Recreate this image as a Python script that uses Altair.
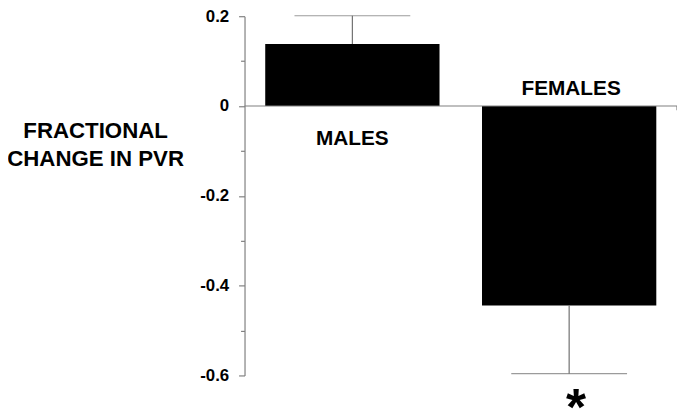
import altair as alt
import pandas as pd

categories = ["MALES", "FEMALES"]
means = [0.138, -0.444]
error_ends = [0.201, -0.596]
y_ticks = [-0.6, -0.5, -0.4, -0.3, -0.2, -0.1, 0.0, 0.1, 0.2]
y_title = ["FRACTIONAL", "CHANGE IN PVR"]
marker = "*"

df = pd.DataFrame({"group": categories, "mean": means, "err_end": error_ends})
zero_df = pd.DataFrame({"v": [0.0]})

W, H = 437, 363
FONT = "Liberation Sans"
GRAY = "#808080"

x = alt.X("group:N", sort=categories, axis=None,
          scale=alt.Scale(paddingInner=0.196, paddingOuter=0.0955))
yscale = alt.Scale(domain=[-0.6, 0.2], nice=False, zero=False)

base = alt.Chart(df)

bars = base.mark_bar(color="black").encode(
    x=x,
    y=alt.Y("mean:Q", scale=yscale,
            axis=alt.Axis(values=y_ticks,
                          labelExpr="round(datum.value*10) % 2 == 0 ? toString(datum.value) : ''",
                          tickSize={"condition": {"test": "round(datum.value*10) % 2 == 0", "value": 6}, "value": 4},
                          title=y_title)),
    y2=alt.datum(0),
)

stems = base.mark_rule(color="#707070", strokeWidth=1.2).encode(
    x=x, y="mean:Q", y2="err_end:Q"
)

caps = base.mark_tick(color="#707070", thickness=1.2, size=117, orient="horizontal").encode(
    x=x, y="err_end:Q"
)

zero_line = alt.Chart(zero_df).mark_rule(color=GRAY, strokeWidth=1.2).encode(
    y=alt.Y("v:Q"), x=alt.value(0), x2=alt.value(W)
)
end_tick = alt.Chart(zero_df).mark_rule(color=GRAY, strokeWidth=1.2).encode(
    y=alt.Y("v:Q"), y2=alt.value(95), x=alt.value(W)
)

males_lbl = base.transform_filter(alt.datum.group == "MALES").mark_text(
    font=FONT, fontSize=21, fontWeight="bold", baseline="alphabetic", dy=39, color="black"
).encode(x=x, y=alt.datum(0), text="group:N")

females_lbl = base.transform_filter(alt.datum.group == "FEMALES").mark_text(
    font=FONT, fontSize=21, fontWeight="bold", baseline="alphabetic", dy=-11, dx=2, color="black"
).encode(x=x, y=alt.datum(0), text="group:N")

star = base.transform_filter(alt.datum.group == "FEMALES").mark_text(
    text=marker, font=FONT, fontSize=52, fontWeight="bold", baseline="alphabetic", dy=52, dx=7, color="black"
).encode(x=x, y="err_end:Q")

chart = alt.layer(
    bars, stems, caps, zero_line, end_tick, males_lbl, females_lbl, star
).properties(
    width=W, height=H,
    autosize=alt.AutoSizeParams(type="none"),
    padding={"left": 239, "top": 6, "right": 0, "bottom": 70},
).configure_view(strokeOpacity=0).configure_axis(
    grid=False,
    domainColor=GRAY,
    domainWidth=1.2,
    tickColor=GRAY,
    tickWidth=1.2,
    labelFont=FONT,
    labelFontSize=17,
    labelFontWeight="bold",
    labelColor="black",
    labelPadding=10,
    titleFont=FONT,
    titleFontSize=22.5,
    titleFontWeight="bold",
    titleColor="black",
    titleAngle=0,
    titleAlign="center",
    titleBaseline="alphabetic",
    titleX=-151,
    titleY=123,
    titleLineHeight=28,
)

chart.save("out.html", embed_options={"renderer": "svg", "actions": False})
